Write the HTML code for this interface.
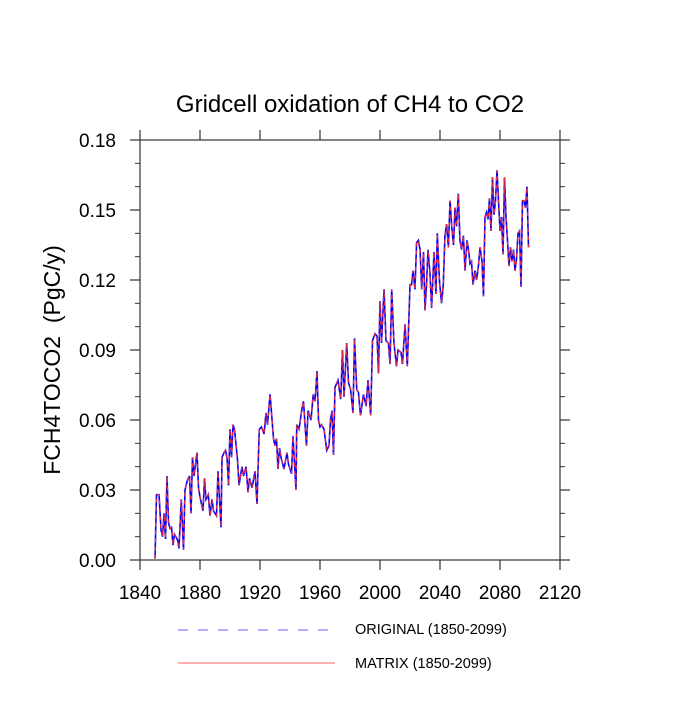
<!DOCTYPE html>
<html><head><meta charset="utf-8"><style>
body{margin:0;background:#fff}
svg text{font-family:"Liberation Sans",sans-serif;fill:#000}
</style></head><body>
<svg id="chart" width="700" height="700" viewBox="0 0 700 700">
<text x="350" y="112" font-size="24" text-anchor="middle">Gridcell oxidation of CH4 to CO2</text>
<text transform="translate(60,360) rotate(-90)" font-size="23" text-anchor="middle">FCH4TOCO2&#160;&#160;(PgC/y)</text>
<g id="axes"></g>
<g id="series"></g>
<g>
<line x1="178" y1="630" x2="335" y2="630" stroke="#6060ff" stroke-width="1" stroke-dasharray="10,10"/>
<text x="355" y="634" font-size="14.5">ORIGINAL (1850-2099)</text>
<line x1="178" y1="663" x2="335" y2="663" stroke="#ff6060" stroke-width="1"/>
<text x="355" y="668" font-size="14.5">MATRIX (1850-2099)</text>
</g>
</svg>
<script>
const years=[1850,1851,1852.7,1854,1855,1856,1857,1858,1859,1860,1861,1862,1863,1865,1866,1867.5,1869,1870,1871.5,1873,1874,1875,1876,1878,1879,1880,1882,1883,1884,1885.5,1886.7,1888,1889,1891,1892,1894,1894.7,1896,1897,1898,1899,1900,1901,1902,1903,1905,1906,1908,1909,1910.7,1912,1913,1914.7,1916.7,1918,1919.5,1921,1922.7,1924,1925,1926.7,1927.8,1929,1930,1931,1932,1933,1934,1936,1938,1939,1941,1942,1944,1944.5,1946,1948,1949,1950,1951,1952,1954,1955.5,1956.7,1958,1959,1960,1961,1962.7,1964.5,1966,1967,1968,1969,1970,1972,1973.8,1975,1976,1977.8,1979,1980.4,1982,1983,1984.5,1985.6,1987,1989,1990.7,1992,1993.8,1995,1996.7,1998,1999,2000,2001,2002.7,2004,2005.6,2006.7,2007.8,2009.3,2011,2012,2014,2015,2016.7,2018.2,2020,2021,2022,2023.3,2024.4,2025.6,2026.7,2027.8,2029,2030,2031,2032,2033.3,2034.4,2036,2037.3,2038.2,2039.6,2041,2042.2,2043.3,2044.4,2045.6,2046.7,2047.8,2049,2050,2051,2052.2,2053.3,2054.4,2055.6,2056.7,2058,2059,2060,2061,2062,2063.3,2064.4,2065.6,2066.7,2068,2069,2070,2071,2072,2073,2074,2075,2076,2077,2078,2079,2080,2081,2082,2083,2084,2085,2086,2087,2088,2089,2090,2091,2092,2093,2094,2095,2096,2097,2098,2099];
const original=[0.0006,0.028,0.028,0.013,0.010,0.020,0.009,0.036,0.016,0.0135,0.014,0.0064,0.011,0.0086,0.005,0.026,0.0044,0.030,0.034,0.036,0.020,0.044,0.036,0.046,0.031,0.027,0.021,0.035,0.026,0.028,0.019,0.026,0.021,0.019,0.038,0.014,0.044,0.046,0.047,0.044,0.032,0.056,0.044,0.058,0.056,0.043,0.032,0.040,0.036,0.040,0.029,0.035,0.031,0.038,0.024,0.056,0.057,0.054,0.063,0.058,0.071,0.062,0.052,0.049,0.052,0.039,0.048,0.044,0.039,0.046,0.041,0.037,0.053,0.030,0.058,0.056,0.065,0.068,0.058,0.049,0.064,0.060,0.071,0.068,0.081,0.060,0.057,0.058,0.056,0.047,0.049,0.060,0.064,0.045,0.074,0.077,0.069,0.090,0.070,0.093,0.076,0.073,0.063,0.095,0.073,0.072,0.062,0.071,0.066,0.077,0.062,0.094,0.097,0.096,0.080,0.111,0.093,0.116,0.094,0.093,0.084,0.116,0.093,0.083,0.090,0.089,0.084,0.101,0.083,0.118,0.118,0.124,0.116,0.136,0.137,0.133,0.116,0.132,0.107,0.118,0.133,0.123,0.108,0.132,0.114,0.140,0.120,0.110,0.118,0.139,0.144,0.134,0.154,0.143,0.135,0.151,0.143,0.157,0.137,0.133,0.139,0.124,0.137,0.133,0.127,0.128,0.118,0.124,0.120,0.126,0.134,0.128,0.113,0.147,0.149,0.146,0.155,0.141,0.164,0.148,0.154,0.167,0.154,0.141,0.147,0.131,0.164,0.147,0.137,0.126,0.134,0.128,0.133,0.124,0.129,0.140,0.141,0.117,0.154,0.154,0.151,0.160,0.134];
const matrix=original.slice();
const xTicks=[1840,1880,1920,1960,2000,2040,2080,2120];
const yTicks=[0,0.03,0.06,0.09,0.12,0.15,0.18];
const yMinor=[0.01,0.02,0.04,0.05,0.07,0.08,0.10,0.11,0.13,0.14,0.16,0.17];
const X0=140,X1=560,Y0=560,Y1=140;
const xs=v=>X0+(v-1840)/(2120-1840)*(X1-X0);
const ys=v=>Y0-(v-0)/(0.18)*(Y0-Y1);
const NS='http://www.w3.org/2000/svg';
function mk(tag,attrs,parent){const e=document.createElementNS(NS,tag);for(const k in attrs)e.setAttribute(k,attrs[k]);parent.appendChild(e);return e;}
const axes=document.getElementById('axes');
const frame=mk('rect',{x:X0,y:Y1,width:X1-X0,height:Y0-Y1,fill:'none',stroke:'#333','stroke-width':1.2},axes);


xTicks.forEach(t=>{const x=xs(t);
 const a=mk('line',{x1:x,y1:Y0,x2:x,y2:Y0+10,stroke:'#333','stroke-width':1.2},axes);
 
 
 const b=mk('line',{x1:x,y1:Y1,x2:x,y2:Y1-10,stroke:'#333','stroke-width':1.2},axes);
 
 
 const l=mk('text',{x:x,y:Y0+39,'font-size':19,'text-anchor':'middle'},axes);l.textContent=t;
 
 
});
yTicks.forEach(t=>{const y=ys(t);
 const a=mk('line',{x1:X0-10,y1:y,x2:X0,y2:y,stroke:'#333','stroke-width':1.2},axes);
 
 
 const b=mk('line',{x1:X1,y1:y,x2:X1+10,y2:y,stroke:'#333','stroke-width':1.2},axes);
 
 
 const l=mk('text',{x:X0-24,y:y+7,'font-size':19,'text-anchor':'end'},axes);l.textContent=t.toFixed(2);
 
 
});
yMinor.forEach(t=>{const y=ys(t);
 const a=mk('line',{x1:X0-5,y1:y,x2:X0,y2:y,stroke:'#333','stroke-width':1},axes);
 
 
 const b=mk('line',{x1:X1,y1:y,x2:X1+5,y2:y,stroke:'#333','stroke-width':1},axes);
 
 
});
const ser=document.getElementById('series');
const pts=arr=>arr.map((v,i)=>xs(years[i]).toFixed(2)+','+ys(v).toFixed(2)).join(' ');
const p1=mk('polyline',{points:pts(original),fill:'none',stroke:'#0000ff','stroke-width':1.6},ser);


const p2=mk('polyline',{points:pts(matrix),fill:'none',stroke:'#ff3030','stroke-width':1.4,'stroke-dasharray':'4,4','stroke-opacity':0.85},ser);


</script>
</body></html>
